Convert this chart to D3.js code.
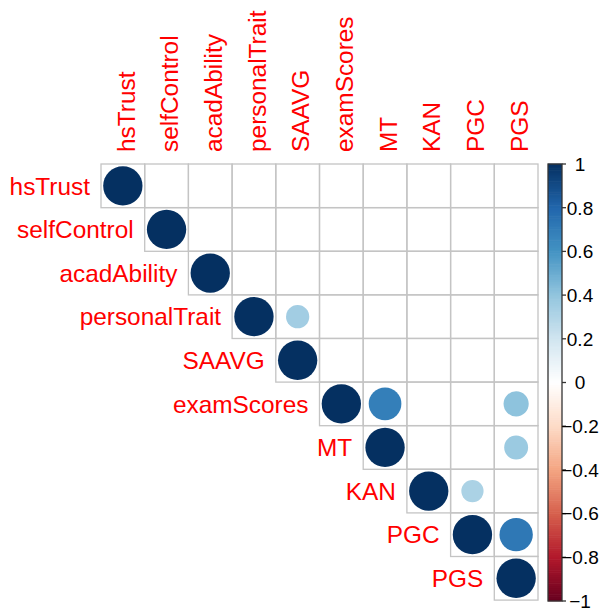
<!DOCTYPE html>
<html>
<head>
<meta charset="utf-8">
<script src="https://cdn.jsdelivr.net/npm/d3@7"></script>
<style>
  html, body { margin: 0; padding: 0; background: #fff; }
  svg { display: block; }
  text { font-family: "Liberation Sans", Arial, sans-serif; }
</style>
</head>
<body>
<svg id="chart" width="600" height="611"></svg>
<script>
// variables, in plot order
const vars = ['hsTrust', 'selfControl', 'acadAbility', 'personalTrait', 'SAAVG',
              'examScores', 'MT', 'KAN', 'PGC', 'PGS'];

// upper triangle correlations (row, col, r) - blank cells are ~0
const corrPairs = [
  ['hsTrust', 'hsTrust', 1],
  ['selfControl', 'selfControl', 1],
  ['acadAbility', 'acadAbility', 1],
  ['personalTrait', 'personalTrait', 1],
  ['personalTrait', 'SAAVG', 0.35],
  ['SAAVG', 'SAAVG', 1],
  ['examScores', 'examScores', 1],
  ['examScores', 'MT', 0.69],
  ['examScores', 'PGS', 0.41],
  ['MT', 'MT', 1],
  ['MT', 'PGS', 0.37],
  ['KAN', 'KAN', 1],
  ['KAN', 'PGC', 0.32],
  ['PGC', 'PGC', 1],
  ['PGC', 'PGS', 0.72],
  ['PGS', 'PGS', 1]
];

const legendTicks = [-1, -0.8, -0.6, -0.4, -0.2, 0, 0.2, 0.4, 0.6, 0.8, 1];

// RdBu palette used by corrplot
const palette = ['#67001F', '#B2182B', '#D6604D', '#F4A582', '#FDDBC7', '#FFFFFF',
                 '#D1E5F0', '#92C5DE', '#4393C3', '#2166AC', '#053061'];

const svg = d3.select('#chart');

const gridLeft = 101, gridTop = 164, gridRight = 538, gridBottom = 600;

const x = d3.scaleBand().domain(vars).range([gridLeft, gridRight]);
const y = d3.scaleBand().domain(vars).range([gridTop, gridBottom]);
const cell = x.bandwidth();

const color = d3.scaleLinear()
  .domain(d3.range(palette.length).map(i => -1 + 2 * i / (palette.length - 1)))
  .range(palette)
  .interpolate(d3.interpolateRgb);

// grid cells (upper triangle only)
const cells = [];
vars.forEach((r, i) => {
  vars.forEach((c, j) => {
    if (j >= i) cells.push({ r, c });
  });
});

svg.append('g')
  .selectAll('rect')
  .data(cells)
  .enter()
  .append('rect')
  .attr('x', d => x(d.c))
  .attr('y', d => y(d.r))
  .attr('width', cell)
  .attr('height', cell)
  .attr('fill', 'none')
  .attr('stroke', '#c4c4c4')
  .attr('stroke-width', 1.3);

// circles: radius = 0.9 * sqrt(|r|) / 2 of a cell
svg.append('g')
  .selectAll('circle')
  .data(corrPairs)
  .enter()
  .append('circle')
  .attr('cx', d => x(d[1]) + cell / 2)
  .attr('cy', d => y(d[0]) + cell / 2)
  .attr('r', d => cell * 0.9 * Math.sqrt(Math.abs(d[2])) / 2)
  .attr('fill', d => color(d[2]));

const fontSize = 24.4;
const capShift = fontSize * 0.358;

// row labels, right of text at the diagonal cell
svg.append('g')
  .selectAll('text')
  .data(vars)
  .enter()
  .append('text')
  .attr('x', d => x(d) - 11)
  .attr('y', d => y(d) + cell / 2 + capShift)
  .attr('text-anchor', 'end')
  .attr('font-size', fontSize)
  .attr('fill', '#ff0000')
  .text(d => d);

// column labels, rotated
svg.append('g')
  .selectAll('text')
  .data(vars)
  .enter()
  .append('text')
  .attr('transform', d => `translate(${x(d) + cell / 2 + capShift + 3},${gridTop - 12}) rotate(-90)`)
  .attr('text-anchor', 'start')
  .attr('font-size', fontSize)
  .attr('fill', '#ff0000')
  .text(d => d);

// color legend
const legX = 548, legW = 14;
const ly = d3.scaleLinear().domain([-1, 1]).range([601, 164]);
const steps = d3.range(200).map(i => -1 + (i + 0.5) * 2 / 200);
const stepH = (ly(-1) - ly(1)) / 200;

svg.append('g')
  .selectAll('rect')
  .data(steps)
  .enter()
  .append('rect')
  .attr('x', legX)
  .attr('y', d => ly(d) - stepH / 2 - 0.3)
  .attr('width', legW)
  .attr('height', stepH + 0.6)
  .attr('fill', d => color(d));

svg.append('rect')
  .attr('x', legX)
  .attr('y', ly(1))
  .attr('width', legW)
  .attr('height', ly(-1) - ly(1))
  .attr('fill', 'none')
  .attr('stroke', '#333')
  .attr('stroke-width', 1.3);

const legAxis = svg.append('g');
legAxis.selectAll('line')
  .data(legendTicks)
  .enter()
  .append('line')
  .attr('x1', legX + legW)
  .attr('x2', legX + legW + 4)
  .attr('y1', d => ly(d))
  .attr('y2', d => ly(d))
  .attr('stroke', '#333')
  .attr('stroke-width', 1.3);

legAxis.selectAll('text')
  .data(legendTicks)
  .enter()
  .append('text')
  .attr('x', 580)
  .attr('y', d => ly(d) + 19 * 0.358)
  .attr('text-anchor', 'middle')
  .attr('font-size', 19)
  .attr('fill', '#000')
  .text(d => d3.format('')(d));
</script>
</body>
</html>
